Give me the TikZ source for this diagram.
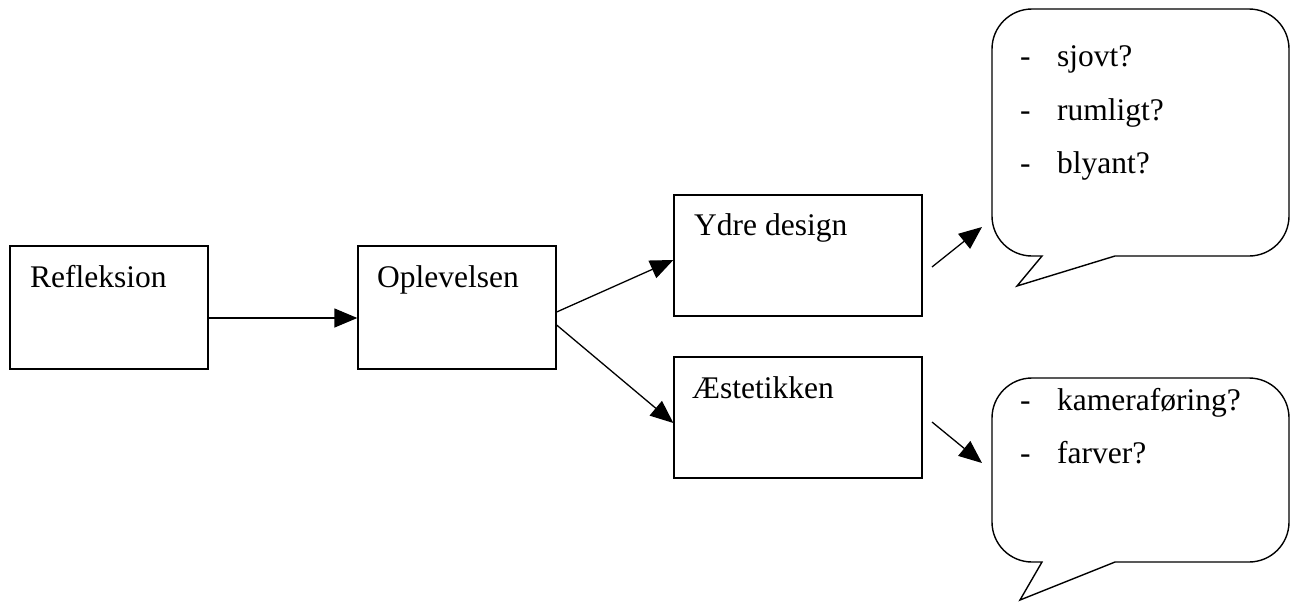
\documentclass[tikz,border=0pt]{standalone}
\usepackage{fontspec}
\setmainfont{Liberation Serif}
\usetikzlibrary{arrows.meta}
\begin{document}
\begin{tikzpicture}[x=1pt,y=-1pt,
  box/.style={draw=black,line width=1.3pt,minimum width=#1,inner sep=0pt},
  lbl/.style={anchor=base west,inner sep=0pt,font=\fontsize{31.5}{36}\selectfont},
  arr/.style={draw=black,line width=1.3pt,-{Triangle[length=23pt,width=19pt]}},
  callout/.style={draw=black,line width=1.4pt,line join=miter}
]
\useasboundingbox (0,0) rectangle (1296,603);
% boxes
\node[box=198pt,minimum height=123pt] (refl) at (109,307.5) {};
\node[box=198pt,minimum height=123pt] (opl) at (457,307.5) {};
\node[box=248pt,minimum height=121pt] (ydre) at (798,255.5) {};
\node[box=248pt,minimum height=121pt] (aest) at (798,417.5) {};
% box labels
\node[lbl] (reflt) at (30,287) {Refleksion};
\node[lbl] (oplt) at (377,287) {Oplevelsen};
\node[lbl] (ydret) at (694,235) {Ydre design};
\node[lbl] (aestt) at (692,398) {Æstetikken};
% arrows between boxes
\draw[arr] ([yshift=-10.5pt]refl.east) -- ([yshift=-10.5pt]opl.west);
\draw[arr] ([yshift=-4.5pt]opl.east) -- ([yshift=-4.5pt]ydre.west);
\draw[arr] ([yshift=-17.5pt]opl.east) -- ([yshift=-5.5pt]aest.west);
% callout 1
\draw[callout] (1042,256) -- (1032,256) arc[start angle=270,end angle=180,radius=40pt]
  -- (992,49) arc[start angle=180,end angle=90,radius=40pt]
  -- (1249,9) arc[start angle=90,end angle=0,radius=40pt]
  -- (1289,216) arc[start angle=0,end angle=-90,radius=40pt]
  -- (1115,256) -- (1017,286) -- cycle;
\coordinate (c1) at (982,227);
\coordinate (a1) at (932,267);
\draw[arr] (a1) -- (c1);
\node[lbl] (d1) at (1020,66) {-};
\node[lbl] (t1) at (1057,66) {sjovt?};
\node[lbl] (d2) at (1020,120) {-};
\node[lbl] (t2) at (1057,120) {rumligt?};
\node[lbl] (d3) at (1020,173) {-};
\node[lbl] (t3) at (1057,173) {blyant?};
% callout 2
\draw[callout] (1042,562) -- (1032,562) arc[start angle=270,end angle=180,radius=40pt]
  -- (992,418) arc[start angle=180,end angle=90,radius=40pt]
  -- (1249,378) arc[start angle=90,end angle=0,radius=40pt]
  -- (1289,522) arc[start angle=0,end angle=-90,radius=40pt]
  -- (1115,562) -- (1020,600) -- cycle;
\coordinate (c2) at (982,463);
\coordinate (a2) at (932,422);
\draw[arr] (a2) -- (c2);
\node[lbl] (d4) at (1020,410) {-};
\node[lbl] (t4) at (1057,410) {kameraføring?};
\node[lbl] (d5) at (1020,463) {-};
\node[lbl] (t5) at (1057,463) {farver?};
\end{tikzpicture}
\end{document}
